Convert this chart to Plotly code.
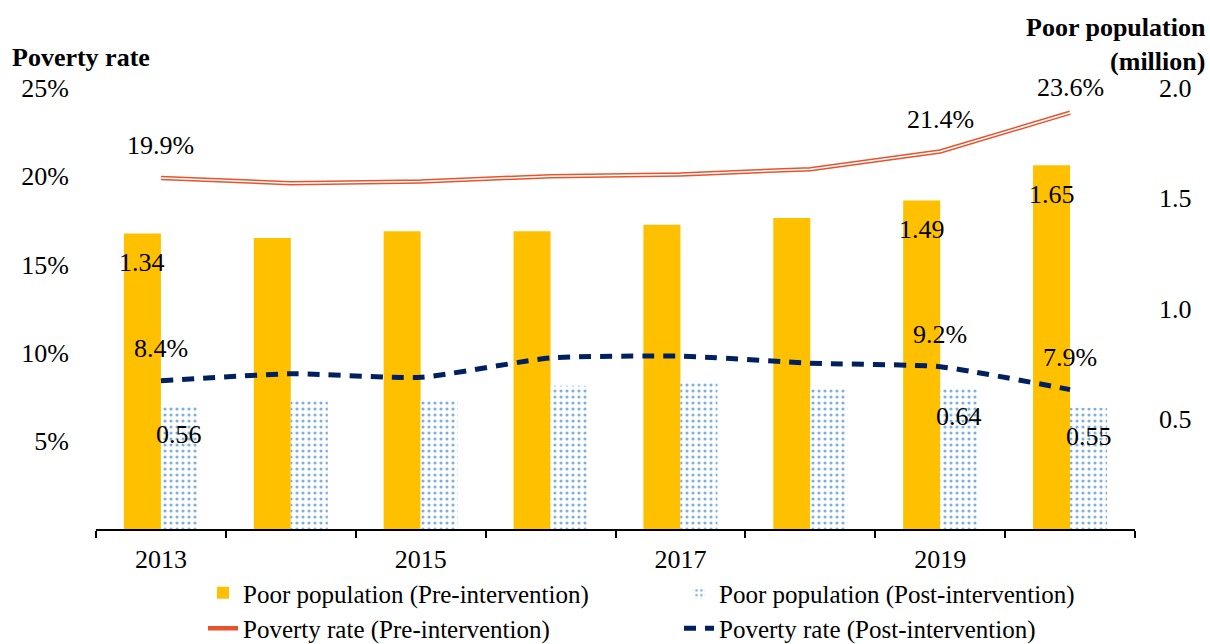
import plotly.graph_objects as go

# ---- data ----
years = [2013, 2014, 2015, 2016, 2017, 2018, 2019, 2020]
pop_pre = [1.34, 1.32, 1.35, 1.35, 1.38, 1.41, 1.49, 1.65]      # million
pop_post = [0.56, 0.59, 0.59, 0.65, 0.67, 0.64, 0.64, 0.55]     # million
rate_pre = [19.9, 19.6, 19.7, 20.0, 20.1, 20.4, 21.4, 23.6]     # %
rate_post = [8.4, 8.8, 8.6, 9.7, 9.8, 9.4, 9.2, 7.9]            # %
labeled_years = [2013, 2019, 2020]
x_tick_years = [2013, 2015, 2017, 2019]
left_ticks = [5, 10, 15, 20, 25]
right_ticks = [0.5, 1.0, 1.5, 2.0]

names = ["Poor population (Pre-intervention)", "Poor population (Post-intervention)",
         "Poverty rate (Pre-intervention)", "Poverty rate (Post-intervention)"]

FONT = "'Liberation Serif', Tinos, 'Times New Roman', 'DejaVu Serif', serif"
FS = 26
GOLD = "#FFC000"
DOT = "#0060C0"
RED = "#E8532D"
NAVY = "#002060"

W, H = 1210, 644
ML, MR, MT, MB = 96, 75, 88, 115
PW = W - ML - MR
PH = H - MT - MB
BARGAP = 0.43
bar_px = (1 - BARGAP) / 2 * PW / len(years)

fig = go.Figure()
fig.add_trace(go.Bar(x=years, y=pop_pre, name=names[0], yaxis="y",
                     marker=dict(color=GOLD, line=dict(width=0))))
fig.add_trace(go.Bar(x=years, y=pop_post, name=names[1], yaxis="y",
                     marker=dict(color="white", line=dict(width=0),
                                 pattern=dict(shape=".", fgcolor=DOT, bgcolor="white",
                                              size=6, solidity=0.22))))
fig.add_trace(go.Scatter(x=years, y=rate_pre, name=names[2], yaxis="y2", mode="lines",
                         line=dict(color=RED, width=4.5)))
fig.add_trace(go.Scatter(x=years, y=rate_pre, showlegend=False, yaxis="y2", mode="lines",
                         hoverinfo="skip", line=dict(color="white", width=1.5)))
fig.add_trace(go.Scatter(x=years, y=rate_post, name=names[3], yaxis="y2", mode="lines",
                         line=dict(color=NAVY, width=5, dash="12px,9px", shape="spline",
                                   smoothing=0.5)))

ann = []
tf = dict(family=FONT, size=FS, color="black")
for yr in labeled_years:
    i = years.index(yr)
    ann.append(dict(x=yr, y=pop_pre[i], xref="x", yref="y", text=f"{pop_pre[i]:.2f}",
                    showarrow=False, xshift=-bar_px / 2, yshift=-29, font=tf))
    ann.append(dict(x=yr, y=pop_post[i], xref="x", yref="y", text=f"{pop_post[i]:.2f}",
                    showarrow=False, xshift=bar_px / 2, yshift=-29, font=tf))
    ann.append(dict(x=yr, y=rate_pre[i], xref="x", yref="y2", text=f"{rate_pre[i]:.1f}%",
                    showarrow=False, yshift=(25 if yr == 2020 else 32), font=tf))
    ann.append(dict(x=yr, y=rate_post[i], xref="x", yref="y2", text=f"{rate_post[i]:.1f}%",
                    showarrow=False, yshift=32, font=tf))

bf = dict(family=FONT, size=FS, color="black")
ann.append(dict(x=(10 - ML) / PW, y=(MT + PH - 58) / PH, xref="paper", yref="paper",
                xanchor="left", yanchor="middle", text="<b>Poverty rate</b>",
                showarrow=False, font=bf))
ann.append(dict(x=(1208 - ML) / PW, y=(MT + PH - 45) / PH, xref="paper", yref="paper",
                xanchor="right", yanchor="middle", align="right",
                text="<b>Poor population</b><br><b>(million)</b>",
                showarrow=False, font=bf))

boundaries = [y - 0.5 for y in years] + [years[-1] + 0.5]

fig.update_layout(
    width=W, height=H, autosize=False,
    margin=dict(l=ML, r=MR, t=MT, b=MB, autoexpand=False),
    paper_bgcolor="white", plot_bgcolor="white",
    font=dict(family=FONT, size=FS, color="black"),
    barmode="group", bargap=BARGAP, bargroupgap=0,
    xaxis=dict(range=[years[0] - 0.5, years[-1] + 0.5], tickvals=x_tick_years,
               ticktext=[str(v) for v in x_tick_years], ticks="", showgrid=False,
               zeroline=False, showline=True, linecolor="black", linewidth=2,
               ticklabelstandoff=6, automargin=False,
               minor=dict(tickvals=boundaries, ticks="outside", ticklen=7, tickwidth=2,
                          tickcolor="black", showgrid=False)),
    yaxis=dict(side="right", range=[0, 2.0], tickvals=right_ticks,
               ticktext=[f"{v:.1f}" for v in right_ticks], showgrid=False, zeroline=False,
               showline=False, ticks="", ticklabelstandoff=23, automargin=False),
    yaxis2=dict(side="left", overlaying="y", range=[0, 25], tickvals=left_ticks,
                ticktext=[f"{v}%" for v in left_ticks], showgrid=False, zeroline=False,
                showline=False, ticks="", ticklabelstandoff=26, automargin=False),
    legend=dict(orientation="h", xref="container", yref="container",
                x=203 / W, y=(H - 570) / H,
                xanchor="left", yanchor="top", entrywidth=431, entrywidthmode="pixels",
                font=dict(family=FONT, size=25), bgcolor="rgba(0,0,0,0)",
                tracegroupgap=0),
    annotations=ann,
    showlegend=True,
)

fig.write_html("out.html")
